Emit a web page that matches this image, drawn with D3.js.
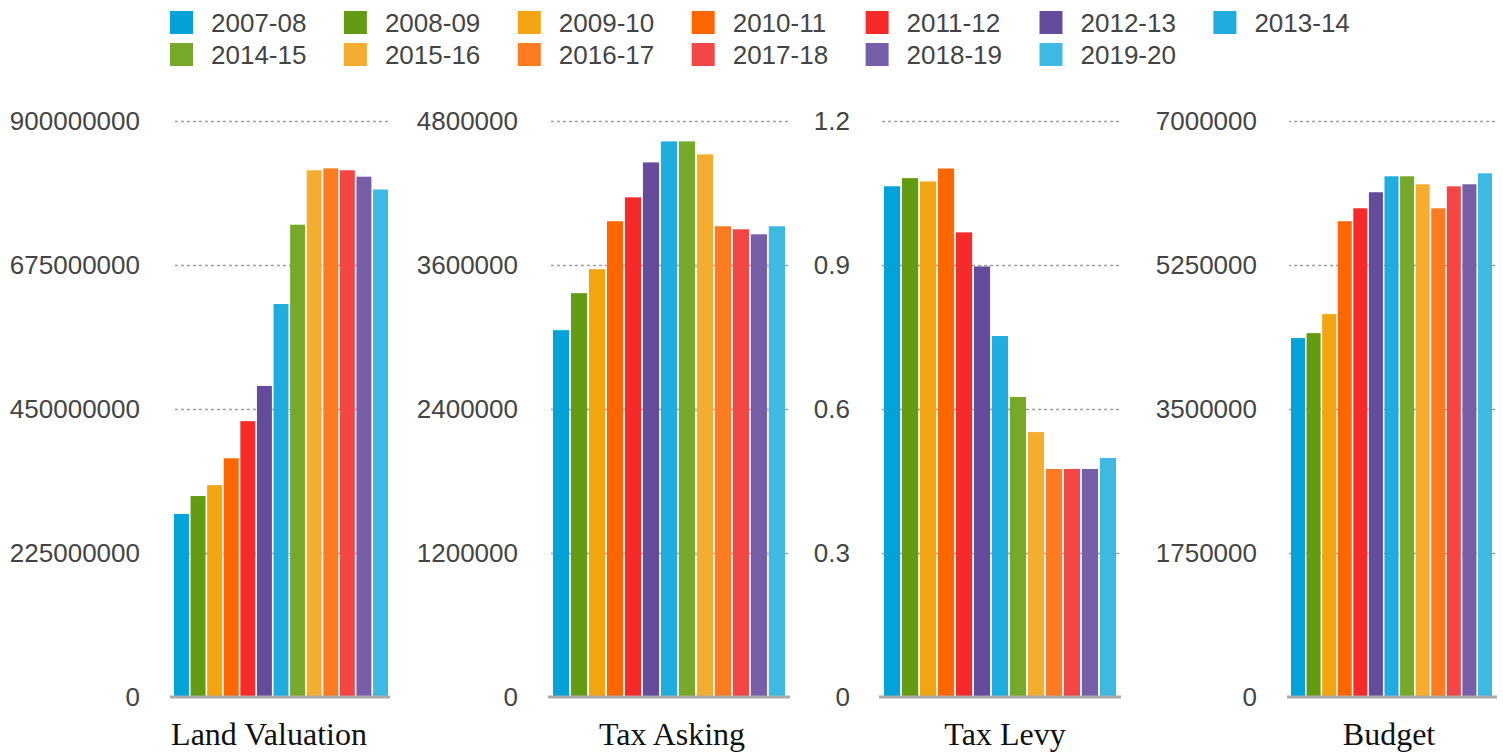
<!DOCTYPE html>
<html>
<head>
<meta charset="utf-8">
<script src="https://cdn.jsdelivr.net/npm/d3@7"></script>
<style>
    body { margin: 0; background: #fff; }
    .tick-label text { font-family: "Liberation Sans", Arial, sans-serif; font-size: 26px; fill: #444; }
    .grid line { stroke: #a0a0a0; stroke-width: 1.5; stroke-dasharray: 3,3; }
    .grid path, .tick-label path { display: none; }
</style>
</head>
<body>
<svg></svg>
<script>
let years = ['2007-08','2008-09','2009-10','2010-11','2011-12','2012-13','2013-14',
             '2014-15','2015-16','2016-17','2017-18','2018-19','2019-20']
let colors = ['#03a3da','#639b13','#f2a411','#ff6600','#f52a29','#654b9c','#1fade0',
              '#76a829','#f5ad2f','#ff7b22','#f54646','#765fa8','#3db9e2']

let landValuation = [286000000,314000000,331000000,373000000,431000000,486000000,614000000,
                     738000000,823000000,826000000,823000000,813000000,793000000]
let taxAsking = [3057000,3365000,3565000,3965000,4164000,4455000,4630000,
                 4630000,4522000,3923000,3898000,3856000,3923000]
let taxLevy = [1.064,1.081,1.074,1.101,0.968,0.897,0.752,
               0.625,0.552,0.475,0.475,0.475,0.498]
let budget = [4362000,4422000,4653000,5782000,5939000,6134000,6328000,
              6328000,6231000,5939000,6206000,6231000,6364000]

let landTicks = [0,225000000,450000000,675000000,900000000]
let askingTicks = [0,1200000,2400000,3600000,4800000]
let levyTicks = [0,0.3,0.6,0.9,1.2]
let budgetTicks = [0,1750000,3500000,5250000,7000000]

let titles = ['Land Valuation','Tax Asking','Tax Levy','Budget']

let width = 1503
let height = 752
let plotTop = 121
let plotBottom = 697

let svg = d3.select('svg')

let drawCanvas = () => {
    svg.attr('width', width)
    svg.attr('height', height)
}

let drawLegend = () => {
    let legend = svg.append('g')
    let items = legend.selectAll('g')
        .data(years)
        .enter()
        .append('g')
        .attr('transform', (d, i) => {
            let col = i % 7
            let row = Math.floor(i / 7)
            return 'translate(' + (170 + col * 173.9) + ',' + (11 + row * 32) + ')'
        })
    items.append('rect')
        .attr('width', 23)
        .attr('height', 23)
        .attr('fill', (d, i) => colors[i])
    items.append('text')
        .attr('x', 41)
        .attr('y', 12)
        .attr('dy', '0.36em')
        .style('font-family', '"Liberation Sans", Arial, sans-serif')
        .style('font-size', '26px')
        .style('fill', '#444')
        .text(d => d)
}

// one panel = its own y scale, grid, bars and title
let drawPanel = (values, ticks, title, box) => {
    let g = svg.append('g')

    let yScale = d3.scaleLinear()
                    .domain([0, ticks[ticks.length - 1]])
                    .range([plotBottom, plotTop])

    let xScale = d3.scaleBand()
                    .domain(years)
                    .range([box.barLeft, box.barRight])
                    .paddingInner(0.1)
                    .paddingOuter(0)

    // dotted gridlines (skip 0, baseline drawn separately)
    g.append('g')
        .attr('class', 'grid')
        .attr('transform', 'translate(' + box.gridRight + ',0)')
        .call(d3.axisLeft(yScale)
                .tickValues(ticks.slice(1))
                .tickSize(box.gridRight - box.gridLeft)
                .tickFormat(''))

    g.append('g')
        .attr('class', 'tick-label')
        .attr('transform', 'translate(' + box.labelRight + ',0)')
        .call(d3.axisLeft(yScale)
                .tickValues(ticks)
                .tickSize(0)
                .tickPadding(0)
                .tickFormat(d => String(d)))

    g.selectAll('rect')
        .data(values)
        .enter()
        .append('rect')
        .attr('x', (d, i) => xScale(years[i]))
        .attr('width', xScale.bandwidth())
        .attr('y', d => yScale(d))
        .attr('height', d => yScale(0) - yScale(d))
        .attr('fill', (d, i) => colors[i])

    g.append('line')
        .attr('x1', box.gridLeft - 2)
        .attr('x2', box.gridRight + 2)
        .attr('y1', yScale(0))
        .attr('y2', yScale(0))
        .attr('stroke', '#aaa')
        .attr('stroke-width', 3)

    g.append('text')
        .attr('x', box.titleX)
        .attr('y', 745)
        .attr('text-anchor', 'middle')
        .style('font-family', '"Liberation Serif", "Times New Roman", serif')
        .style('font-size', '32px')
        .style('fill', '#111')
        .text(title)
}

drawCanvas()
drawLegend()
drawPanel(landValuation, landTicks, titles[0],
    {labelRight: 140, gridLeft: 172, gridRight: 388, barLeft: 174, barRight: 388, titleX: 269})
drawPanel(taxAsking, askingTicks, titles[1],
    {labelRight: 518, gridLeft: 550, gridRight: 788, barLeft: 553, barRight: 785, titleX: 672})
drawPanel(taxLevy, levyTicks, titles[2],
    {labelRight: 850, gridLeft: 881, gridRight: 1119, barLeft: 884, barRight: 1116, titleX: 1005})
drawPanel(budget, budgetTicks, titles[3],
    {labelRight: 1257, gridLeft: 1289, gridRight: 1495, barLeft: 1291, barRight: 1492, titleX: 1389})
</script>
</body>
</html>
